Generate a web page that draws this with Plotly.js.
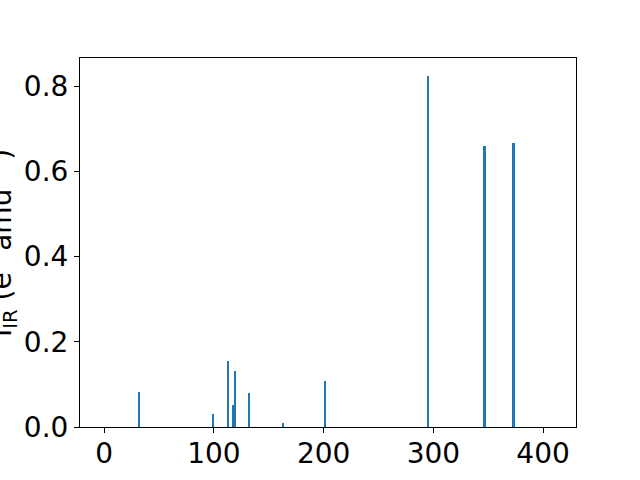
<!DOCTYPE html>
<html>
<head>
<meta charset="utf-8">
<script src="https://cdn.plot.ly/plotly-3.0.1.min.js"></script>
<style>html,body{margin:0;padding:0;background:#fff;}#chart{width:640px;height:480px;}</style>
</head>
<body>
<div id="chart"></div>
<script>
// Mode frequencies (cm^-1) and IR intensities
const frequencies = [31.9, 99.3, 113.0, 117.5, 119.4, 131.8, 163.0, 201.2, 295.2, 346.5, 373.0];
const intensities = [0.083, 0.031, 0.155, 0.052, 0.131, 0.080, 0.009, 0.108, 0.823, 0.660, 0.667];
const xTicks = [0, 100, 200, 300, 400];
const yTicks = [0, 0.2, 0.4, 0.6, 0.8];
const xTitle = 'Frequency (cm<sup>−1</sup>)';
const yTitle = 'I<sub>IR</sub> (e<sup>2</sup> amu<sup>−1</sup>)';

const font = {family: 'DejaVu Sans', size: 28, color: '#000'};

const trace = {
  type: 'bar',
  x: frequencies,
  y: intensities,
  width: 2.2,
  marker: {color: '#1f77b4', line: {width: 0}},
  hoverinfo: 'skip'
};

const layout = {
  width: 640, height: 480,
  paper_bgcolor: '#fff', plot_bgcolor: '#fff',
  margin: {l: 80, r: 64, t: 58, b: 53, pad: 0},
  showlegend: false,
  font: font,
  bargap: 0,
  xaxis: {
    range: [-22, 430],
    tickvals: xTicks,
    ticktext: xTicks.map(String),
    ticks: 'outside', ticklen: 5, tickwidth: 1, tickcolor: '#000',
    ticklabelstandoff: -4,
    showline: true, linecolor: '#000', linewidth: 1, mirror: true,
    showgrid: false, zeroline: false,
    tickfont: font,
    automargin: false
  },
  yaxis: {
    range: [0, 0.866],
    tickvals: yTicks,
    ticktext: yTicks.map(v => v.toFixed(1)),
    ticks: 'outside', ticklen: 5, tickwidth: 1, tickcolor: '#000',
    showline: true, linecolor: '#000', linewidth: 1, mirror: true,
    showgrid: false, zeroline: false,
    tickfont: font,
    automargin: false
  },
  annotations: [
    {
      text: xTitle, xref: 'paper', yref: 'paper',
      x: 0.5, y: -0.13, xanchor: 'center', yanchor: 'top',
      showarrow: false, font: font
    },
    {
      text: yTitle, xref: 'paper', yref: 'paper',
      x: -0.113, y: 0.5, xanchor: 'right', yanchor: 'middle',
      textangle: -90, showarrow: false, font: font
    }
  ]
};

Plotly.newPlot('chart', [trace], layout, {staticPlot: true, displayModeBar: false});
</script>
</body>
</html>
